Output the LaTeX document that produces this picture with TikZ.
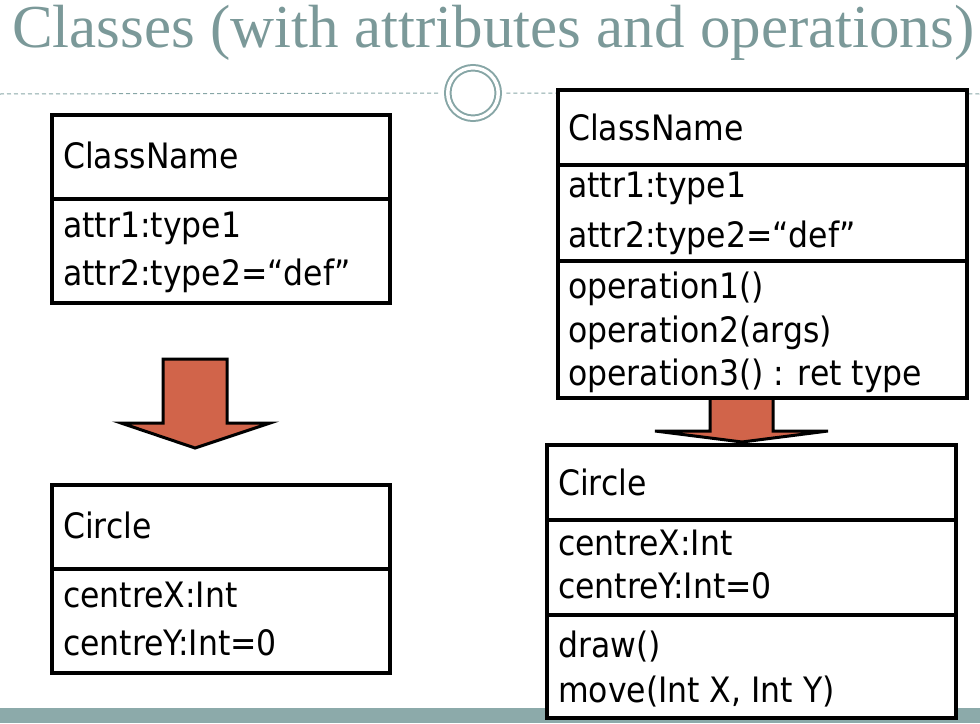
\documentclass[tikz,border=0pt]{standalone}
\usepackage{fontspec}
\newfontfamily\umlfont{DejaVu Sans Condensed}
\newfontfamily\titlefont{Liberation Serif}
\definecolor{titlegrey}{RGB}{123,153,153}
\definecolor{rulegrey}{RGB}{135,166,166}
\definecolor{bandgrey}{RGB}{140,170,170}
\definecolor{arrowred}{RGB}{209,100,74}
\tikzset{
  compart/.style={draw=black,line width=3.5pt,fill=white,anchor=north west,
                  inner sep=0pt,outer sep=0pt},
  member/.style={anchor=base west,inner sep=0pt,font=\umlfont\fontsize{35}{40}\selectfont},
  blockarrow/.style={draw=black,line width=3pt,fill=arrowred,line join=miter}
}
\begin{document}
\begin{tikzpicture}[x=1pt,y=-1pt]
          \useasboundingbox (0,0) rectangle (980,723);
          \node[anchor=base west,inner sep=0pt,text=titlegrey,font=\titlefont\fontsize{61}{70}\selectfont]
            (title) at (12,47) {Classes (with attributes and operations)};
          % rule with the ring
          \coordinate (ruleL) at (0,94);
          \coordinate (ruleR) at (980,94);
          \node[circle,draw=rulegrey,line width=2pt,double=white,double distance=3.5pt,
                minimum size=50.5pt,inner sep=0pt,outer sep=8pt] (ring) at (473,93) {};
          \draw[rulegrey,line width=1pt,dash pattern=on 4pt off 3pt] (ruleL) -- (ring.west);
          \draw[rulegrey,line width=1pt,dash pattern=on 4pt off 3pt] (ring.east) -- (ruleR);
          \fill[bandgrey] (0,708) rectangle (980,723);
          % arrows
          \filldraw[blockarrow] (163,359) -- (227,359) -- (227,423) -- (270,423) -- (195,448)
            -- (121,423) -- (163,423) -- cycle;
          \filldraw[blockarrow] (710,398) -- (773,398) -- (773,431) -- (828,431) -- (742,442)
            -- (655,431) -- (710,431) -- cycle;
          % left column
          \node[compart,minimum width=338pt,minimum height=84pt] (A1) at (52,115) {};
          \node[compart,minimum width=338pt,minimum height=104pt] (A2) at (A1.south west) {};
          \node[compart,minimum width=338pt,minimum height=84pt] (B1) at (52,485) {};
          \node[compart,minimum width=338pt,minimum height=104pt] (B2) at (B1.south west) {};
          % right column
          \node[compart,minimum width=409pt,minimum height=75pt] (C1) at (558,90) {};
          \node[compart,minimum width=409pt,minimum height=96pt] (C2) at (C1.south west) {};
          \node[compart,minimum width=409pt,minimum height=137pt] (C3) at (C2.south west) {};
          \node[compart,minimum width=409pt,minimum height=75pt] (D1) at (547,445) {};
          \node[compart,minimum width=409pt,minimum height=95pt] (D2) at (D1.south west) {};
          \node[compart,minimum width=409pt,minimum height=103pt] (D3) at (D2.south west) {};
          % texts
          \node[member] (aname) at (63,168) {ClassName};
          \node[member] (aattr1) at (63,237) {attr1:type1};
          \node[member] (aattr2) at (63,285) {attr2:type2=“def”};
          \node[member] (bname) at (63,538) {Circle};
          \node[member] (battr1) at (63,607) {centreX:Int};
          \node[member] (battr2) at (63,655) {centreY:Int=0};
          \node[member] (cname) at (568,140) {ClassName};
          \node[member] (cattr1) at (568,197) {attr1:type1};
          \node[member] (cattr2) at (568,247) {attr2:type2=“def”};
          \node[member] (cop1) at (568,298) {operation1()};
          \node[member] (cop2) at (568,342) {operation2(args)};
          \node[member] (cop3) at (568,385) {operation3() : ret type};
          \node[member] (dname) at (558,495) {Circle};
          \node[member] (dattr1) at (558,555) {centreX:Int};
          \node[member] (dattr2) at (558,598) {centreY:Int=0};
          \node[member] (dop1) at (558,657) {draw()};
          \node[member] (dop2) at (558,702) {move(Int X, Int Y)};
        \end{tikzpicture}
\end{document}
